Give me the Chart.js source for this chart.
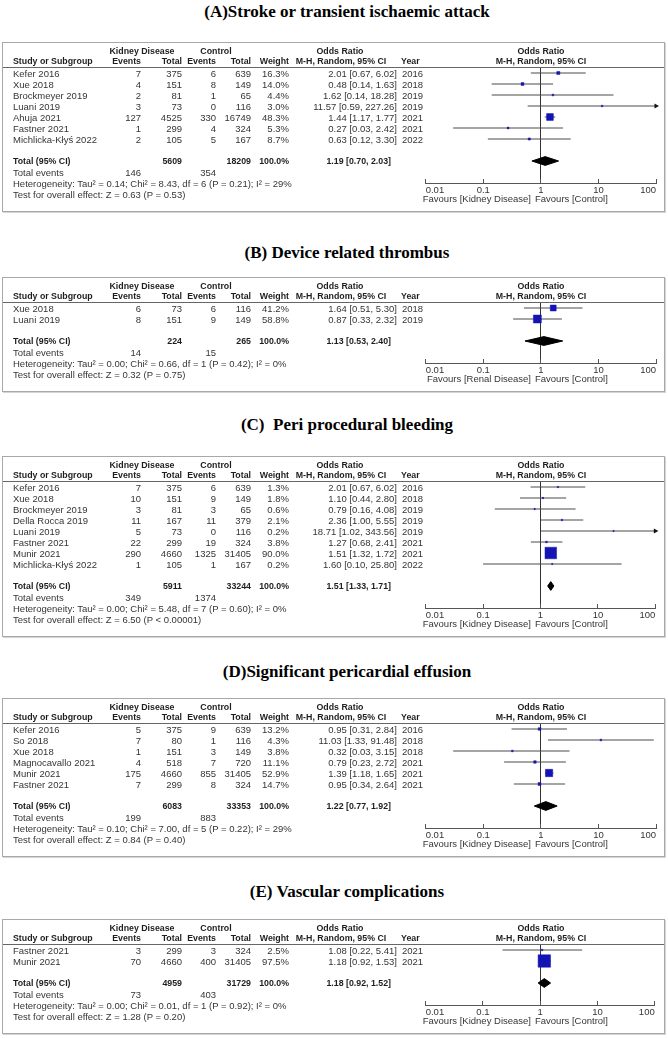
<!DOCTYPE html>
<html>
<head>
<meta charset="utf-8">
<script src="https://cdn.jsdelivr.net/npm/chart.js@4.4.0/dist/chart.umd.min.js"></script>
<style>
    html, body { margin: 0; padding: 0; background: #fff; }
    #page { position: relative; width: 668px; height: 1038px; overflow: hidden; }
    .title { position: absolute; left: 0; width: 694px; text-align: center; font: bold 17px 'Liberation Serif', 'Times New Roman', serif; line-height: 20px; color: #000; white-space: nowrap; }
    .box { position: absolute; left: 2px; width: 661px; border: 1px solid #a8a8a8; box-shadow: 1px 1px 0 #d4d4d4; background: #fff; }
    .box canvas { position: absolute; left: 0; top: 0; }
    .tx { position: absolute; font: 9.5px 'Liberation Sans', Arial, sans-serif; line-height: 11px; color: #353535; white-space: nowrap; }
    .tx.b { font-weight: bold; font-size: 8.8px; color: #1e1e1e; }
    .rule { position: absolute; left: 0; width: 661px; height: 1px; top: 24px; background: #666; }
</style>
</head>
<body>
<div id="page"></div>
<script>
// x axis of every forest plot
const tickValues = [0.01, 0.1, 1, 10, 100];
const tickLabels = ['0.01', '0.1', '1', '10', '100'];

// (A) Stroke or transient ischaemic attack
const strokeStudy = ['Kefer 2016', 'Xue 2018', 'Brockmeyer 2019', 'Luani 2019', 'Ahuja 2021', 'Fastner 2021', 'Michlicka-Kłyś 2022'];
const strokeKdEvents = [7, 4, 2, 3, 127, 1, 2];
const strokeKdTotal = [375, 151, 81, 73, 4525, 299, 105];
const strokeCtEvents = [6, 8, 1, 0, 330, 4, 5];
const strokeCtTotal = [639, 149, 65, 116, 16749, 324, 167];
const strokeWeight = [16.3, 14.0, 4.4, 3.0, 48.3, 5.3, 8.7];
const strokeOr = [2.01, 0.48, 1.62, 11.57, 1.44, 0.27, 0.63];
const strokeLo = [0.67, 0.14, 0.14, 0.59, 1.17, 0.03, 0.12];
const strokeHi = [6.02, 1.63, 18.28, 227.26, 1.77, 2.42, 3.30];
const strokeYear = [2016, 2018, 2019, 2019, 2021, 2021, 2022];
const strokeSum = [5609, 18209];
const strokePooled = [1.19, 0.70, 2.03];
const strokeEvents = [146, 354];
const strokeHet = 'Heterogeneity: Tau² = 0.14; Chi² = 8.43, df = 6 (P = 0.21); I² = 29%';
const strokeTest = 'Test for overall effect: Z = 0.63 (P = 0.53)';

// (B) Device related thrombus
const thrombusStudy = ['Xue 2018', 'Luani 2019'];
const thrombusKdEvents = [6, 8];
const thrombusKdTotal = [73, 151];
const thrombusCtEvents = [6, 9];
const thrombusCtTotal = [116, 149];
const thrombusWeight = [41.2, 58.8];
const thrombusOr = [1.64, 0.87];
const thrombusLo = [0.51, 0.33];
const thrombusHi = [5.30, 2.32];
const thrombusYear = [2018, 2019];
const thrombusSum = [224, 265];
const thrombusPooled = [1.13, 0.53, 2.40];
const thrombusEvents = [14, 15];
const thrombusHet = 'Heterogeneity: Tau² = 0.00; Chi² = 0.66, df = 1 (P = 0.42); I² = 0%';
const thrombusTest = 'Test for overall effect: Z = 0.32 (P = 0.75)';

// (C) Peri procedural bleeding
const bleedStudy = ['Kefer 2016', 'Xue 2018', 'Brockmeyer 2019', 'Della Rocca 2019', 'Luani 2019', 'Fastner 2021', 'Munir 2021', 'Michlicka-Kłyś 2022'];
const bleedKdEvents = [7, 10, 3, 11, 5, 22, 290, 1];
const bleedKdTotal = [375, 151, 81, 167, 73, 299, 4660, 105];
const bleedCtEvents = [6, 9, 3, 11, 0, 19, 1325, 1];
const bleedCtTotal = [639, 149, 65, 379, 116, 324, 31405, 167];
const bleedWeight = [1.3, 1.8, 0.6, 2.1, 0.2, 3.8, 90.0, 0.2];
const bleedOr = [2.01, 1.10, 0.79, 2.36, 18.71, 1.27, 1.51, 1.60];
const bleedLo = [0.67, 0.44, 0.16, 1.00, 1.02, 0.68, 1.32, 0.10];
const bleedHi = [6.02, 2.80, 4.08, 5.55, 343.56, 2.41, 1.72, 25.80];
const bleedYear = [2016, 2018, 2019, 2019, 2019, 2021, 2021, 2022];
const bleedSum = [5911, 33244];
const bleedPooled = [1.51, 1.33, 1.71];
const bleedEvents = [349, 1374];
const bleedHet = 'Heterogeneity: Tau² = 0.00; Chi² = 5.48, df = 7 (P = 0.60); I² = 0%';
const bleedTest = 'Test for overall effect: Z = 6.50 (P < 0.00001)';

// (D) Significant pericardial effusion
const effusionStudy = ['Kefer 2016', 'So 2018', 'Xue 2018', 'Magnocavallo 2021', 'Munir 2021', 'Fastner 2021'];
const effusionKdEvents = [5, 7, 1, 4, 175, 7];
const effusionKdTotal = [375, 80, 151, 518, 4660, 299];
const effusionCtEvents = [9, 1, 3, 7, 855, 8];
const effusionCtTotal = [639, 116, 149, 720, 31405, 324];
const effusionWeight = [13.2, 4.3, 3.8, 11.1, 52.9, 14.7];
const effusionOr = [0.95, 11.03, 0.32, 0.79, 1.39, 0.95];
const effusionLo = [0.31, 1.33, 0.03, 0.23, 1.18, 0.34];
const effusionHi = [2.84, 91.48, 3.15, 2.72, 1.65, 2.64];
const effusionYear = [2016, 2018, 2018, 2021, 2021, 2021];
const effusionSum = [6083, 33353];
const effusionPooled = [1.22, 0.77, 1.92];
const effusionEvents = [199, 883];
const effusionHet = 'Heterogeneity: Tau² = 0.10; Chi² = 7.00, df = 5 (P = 0.22); I² = 29%';
const effusionTest = 'Test for overall effect: Z = 0.84 (P = 0.40)';

// (E) Vascular complications
const vascStudy = ['Fastner 2021', 'Munir 2021'];
const vascKdEvents = [3, 70];
const vascKdTotal = [299, 4660];
const vascCtEvents = [3, 400];
const vascCtTotal = [324, 31405];
const vascWeight = [2.5, 97.5];
const vascOr = [1.08, 1.18];
const vascLo = [0.22, 0.92];
const vascHi = [5.41, 1.53];
const vascYear = [2021, 2021];
const vascSum = [4959, 31729];
const vascPooled = [1.18, 0.92, 1.52];
const vascEvents = [73, 403];
const vascHet = 'Heterogeneity: Tau² = 0.00; Chi² = 0.01, df = 1 (P = 0.92); I² = 0%';
const vascTest = 'Test for overall effect: Z = 1.28 (P = 0.20)';

// 各面板的版面位置
const panels = [
    { title: '(A)Stroke or transient ischaemic attack', titleY: 12, top: 43, favours: 'Kidney Disease',
      study: strokeStudy, kdEvents: strokeKdEvents, kdTotal: strokeKdTotal, ctEvents: strokeCtEvents, ctTotal: strokeCtTotal,
      weight: strokeWeight, or: strokeOr, lo: strokeLo, hi: strokeHi, year: strokeYear,
      sum: strokeSum, pooled: strokePooled, events: strokeEvents, het: strokeHet, test: strokeTest },
    { title: '(B) Device related thrombus', titleY: 253, top: 278, favours: 'Renal Disease',
      study: thrombusStudy, kdEvents: thrombusKdEvents, kdTotal: thrombusKdTotal, ctEvents: thrombusCtEvents, ctTotal: thrombusCtTotal,
      weight: thrombusWeight, or: thrombusOr, lo: thrombusLo, hi: thrombusHi, year: thrombusYear,
      sum: thrombusSum, pooled: thrombusPooled, events: thrombusEvents, het: thrombusHet, test: thrombusTest },
    { title: '(C)\u00a0 Peri procedural bleeding', titleY: 425, top: 457, favours: 'Kidney Disease',
      study: bleedStudy, kdEvents: bleedKdEvents, kdTotal: bleedKdTotal, ctEvents: bleedCtEvents, ctTotal: bleedCtTotal,
      weight: bleedWeight, or: bleedOr, lo: bleedLo, hi: bleedHi, year: bleedYear,
      sum: bleedSum, pooled: bleedPooled, events: bleedEvents, het: bleedHet, test: bleedTest },
    { title: '(D)Significant pericardial effusion', titleY: 672, top: 699, favours: 'Kidney Disease',
      study: effusionStudy, kdEvents: effusionKdEvents, kdTotal: effusionKdTotal, ctEvents: effusionCtEvents, ctTotal: effusionCtTotal,
      weight: effusionWeight, or: effusionOr, lo: effusionLo, hi: effusionHi, year: effusionYear,
      sum: effusionSum, pooled: effusionPooled, events: effusionEvents, het: effusionHet, test: effusionTest },
    { title: '(E) Vascular complications', titleY: 892, top: 920, favours: 'Kidney Disease',
      study: vascStudy, kdEvents: vascKdEvents, kdTotal: vascKdTotal, ctEvents: vascCtEvents, ctTotal: vascCtTotal,
      weight: vascWeight, or: vascOr, lo: vascLo, hi: vascHi, year: vascYear,
      sum: vascSum, pooled: vascPooled, events: vascEvents, het: vascHet, test: vascTest },
];

const ROW = 11;          // 列高
const FIRST = 30;        // 第一列中心 (相對方框)
const AXIS_H = 28;       // x 軸高度
const page = document.getElementById('page');

function put(box, text, x, y, align, bold) {
    const d = document.createElement('div');
    d.className = 'tx' + (bold ? ' b' : '');
    d.textContent = text;
    if (align === 'right') {
        d.style.left = (x - 300) + 'px'; d.style.width = '300px'; d.style.textAlign = 'right';
    } else if (align === 'center') {
        d.style.left = (x - 150) + 'px'; d.style.width = '300px'; d.style.textAlign = 'center';
    } else {
        d.style.left = x + 'px';
    }
    d.style.top = (y - 5.5) + 'px';
    box.appendChild(d);
}

const fmtOr = (m, l, h) => `${m.toFixed(2)} [${l.toFixed(2)}, ${h.toFixed(2)}]`;
// 方塊邊長隨權重
const markSize = w => (1.2 + 0.115 * w) / Math.SQRT2;

function chartConfig(p) {
    const n = p.study.length;
    const tr = n + 1;
    const datasets = [];
    // 個別研究
    datasets.push({
        data: p.or.map((v, i) => ({ x: v, y: i })),
        pointStyle: 'rect',
        pointRadius: p.weight.map(markSize),
        pointBackgroundColor: '#1414b4',
        pointBorderColor: '#1414b4',
        pointBorderWidth: 0.5,
        order: 0
    });
    // 信賴區間
    p.lo.forEach((lo, i) => {
        datasets.push({
            data: [{ x: lo, y: i }, { x: p.hi[i], y: i }],
            showLine: true,
            borderColor: '#4a4a4a',
            borderWidth: 1,
            pointRadius: 0,
            order: 3
        });
    });
    // 超出範圍的箭頭
    datasets.push({
        data: p.hi.map((h, i) => ({ x: h, y: i }))
            .filter(d => d.x > tickValues[tickValues.length - 1])
            .map(d => ({ x: tickValues[tickValues.length - 1], y: d.y })),
        pointStyle: 'triangle',
        pointRotation: 90,
        pointRadius: 3,
        pointBackgroundColor: '#111',
        pointBorderColor: '#111',
        pointBorderWidth: 0,
        clip: false,
        order: 1
    });
    // 合併效果菱形 (上下兩半)
    [-0.4, 0.4].forEach(dy => {
        datasets.push({
            data: [{ x: p.pooled[1], y: tr }, { x: p.pooled[0], y: tr + dy }, { x: p.pooled[2], y: tr }],
            showLine: true,
            fill: { value: tr },
            backgroundColor: '#000',
            borderColor: '#000',
            borderWidth: 1,
            pointRadius: 0,
            order: 2
        });
    });

    return {
        type: 'scatter',
        data: { datasets },
        options: {
            responsive: false,
            animation: false,
            layout: { padding: { left: 422.7, right: 8, top: FIRST - 6, bottom: 0 } },
            plugins: { legend: { display: false }, tooltip: { enabled: false } },
            scales: {
                x: {
                    type: 'logarithmic',
                    min: tickValues[0],
                    max: tickValues[tickValues.length - 1],
                    afterBuildTicks: axis => { axis.ticks = tickValues.map(v => ({ value: v })); },
                    afterFit: axis => { axis.height = AXIS_H; },
                    border: { display: true, color: '#555', width: 1 },
                    grid: {
                        drawOnChartArea: true,
                        drawTicks: true,
                        tickLength: -4,
                        color: c => (c.tick && c.tick.value === 1) ? '#333' : 'rgba(0,0,0,0)',
                        tickColor: '#555',
                        lineWidth: 1
                    },
                    ticks: {
                        align: 'inner',
                        padding: 6,
                        autoSkip: false,
                        maxRotation: 0,
                        color: '#353535',
                        font: { family: 'Liberation Sans', size: 9.5 },
                        callback: (v, i) => tickLabels[i]
                    }
                },
                y: {
                    type: 'linear',
                    reverse: true,
                    min: -6 / ROW,
                    max: n + 3,
                    display: false
                }
            }
        }
    };
}

panels.forEach(p => {
    const n = p.study.length;
    const H = FIRST + ROW * (n + 3) + AXIS_H;
    const rowY = i => FIRST + ROW * i;

    const t = document.createElement('div');
    t.className = 'title';
    t.textContent = p.title;
    t.style.top = (p.titleY - 10) + 'px';
    page.appendChild(t);

    const box = document.createElement('div');
    box.className = 'box';
    box.style.top = (p.top - 1) + 'px';
    box.style.height = H + 'px';
    page.appendChild(box);

    const cv = document.createElement('canvas');
    cv.width = 661;
    cv.height = H;
    box.appendChild(cv);

    const rule = document.createElement('div');
    rule.className = 'rule';
    box.appendChild(rule);

    // 表頭
    put(box, 'Kidney Disease', 139, 8, 'center', true);
    put(box, 'Control', 213, 8, 'center', true);
    put(box, 'Odds Ratio', 337, 8, 'center', true);
    put(box, 'Odds Ratio', 538, 8, 'center', true);
    put(box, 'Study or Subgroup', 10, 18.5, 'left', true);
    put(box, 'Events', 138, 18.5, 'right', true);
    put(box, 'Total', 179, 18.5, 'right', true);
    put(box, 'Events', 213, 18.5, 'right', true);
    put(box, 'Total', 248, 18.5, 'right', true);
    put(box, 'Weight', 286, 18.5, 'right', true);
    put(box, 'M-H, Random, 95% CI', 338, 18.5, 'center', true);
    put(box, 'Year', 398, 18.5, 'left', true);
    put(box, 'M-H, Random, 95% CI', 538, 18.5, 'center', true);

    // 研究列
    p.study.forEach((s, i) => {
        const y = rowY(i);
        put(box, s, 10, y, 'left');
        put(box, String(p.kdEvents[i]), 138, y, 'right');
        put(box, String(p.kdTotal[i]), 179, y, 'right');
        put(box, String(p.ctEvents[i]), 213, y, 'right');
        put(box, String(p.ctTotal[i]), 248, y, 'right');
        put(box, p.weight[i].toFixed(1) + '%', 286, y, 'right');
        put(box, fmtOr(p.or[i], p.lo[i], p.hi[i]), 394, y, 'right');
        put(box, String(p.year[i]), 399, y, 'left');
    });

    // 合計
    const yt = rowY(n + 1);
    put(box, 'Total (95% CI)', 10, yt, 'left', true);
    put(box, String(p.sum[0]), 179, yt, 'right', true);
    put(box, String(p.sum[1]), 248, yt, 'right', true);
    put(box, '100.0%', 286, yt, 'right', true);
    put(box, fmtOr(p.pooled[0], p.pooled[1], p.pooled[2]), 388, yt, 'right', true);
    put(box, 'Total events', 10, rowY(n + 2), 'left');
    put(box, String(p.events[0]), 138, rowY(n + 2), 'right');
    put(box, String(p.events[1]), 213, rowY(n + 2), 'right');
    put(box, p.het, 10, rowY(n + 3), 'left');
    put(box, p.test, 10, rowY(n + 4), 'left');
    put(box, 'Favours [' + p.favours + ']', 528, rowY(n + 3) + 15, 'right');
    put(box, 'Favours [Control]', 532, rowY(n + 3) + 15, 'left');

    new Chart(cv, chartConfig(p));
});
</script>
</body>
</html>
